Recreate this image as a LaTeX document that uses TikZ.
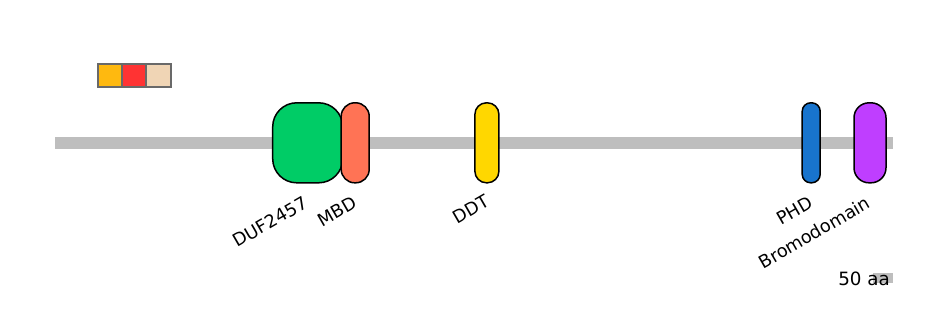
\documentclass[tikz,border=0pt]{standalone}
\usepackage{fontspec}
\setmainfont{DejaVu Sans}
\definecolor{bbgray}{RGB}{190,190,190}
\definecolor{lgA}{RGB}{255,185,15}
\definecolor{lgB}{RGB}{255,51,51}
\definecolor{lgC}{RGB}{240,213,181}
\definecolor{lgedge}{RGB}{105,105,105}
\definecolor{cDUF}{RGB}{0,204,102}
\definecolor{cMBD}{RGB}{255,115,85}
\definecolor{cDDT}{RGB}{255,215,0}
\definecolor{cPHD}{RGB}{24,116,205}
\definecolor{cBRD}{RGB}{191,62,255}
\begin{document}
\begin{tikzpicture}[x=1pt,y=-1pt,
  dombox/.style={draw=black, line width=1.5pt, minimum height=80pt, inner sep=0pt},
  lgbox/.style={draw=lgedge, line width=2pt, minimum width=24.5pt, minimum height=23pt, inner sep=0pt},
  dlabel/.style={rotate=30, anchor=north east, inner sep=0pt, font=\fontsize{17.8}{20}\selectfont}]
\useasboundingbox (0,0) rectangle (944,330);
% backbone
\coordinate (bbL) at (55,142.8);
\coordinate (bbR) at (893,142.8);
\draw[bbgray, line width=11.5pt] (bbL) -- (bbR);
% legend
\node[lgbox, fill=lgA] (lg1) at (109.8,75) {};
\node[lgbox, fill=lgB] (lg2) at (133.8,75) {};
\node[lgbox, fill=lgC] (lg3) at (158.5,75) {};
% domains
\node[dombox, fill=cDUF, minimum width=70pt, rounded corners=24pt] (duf) at (307.7,142.8) {};
\node[dombox, fill=cMBD, minimum width=28pt, rounded corners=13.5pt] (mbd) at (355.2,142.8) {};
\node[dombox, fill=cDDT, minimum width=24pt, rounded corners=11.5pt] (ddt) at (486.9,142.8) {};
\node[dombox, fill=cPHD, minimum width=18pt, rounded corners=8.5pt] (phd) at (811.2,142.8) {};
\node[dombox, fill=cBRD, minimum width=32pt, rounded corners=15pt] (brd) at (870,142.8) {};
% labels
\node[dlabel] (lduf) at (302.5,195) {DUF2457};
\node[dlabel] (lmbd) at (351.5,195.5) {MBD};
\node[dlabel] (lddt) at (484.5,194) {DDT};
\node[dlabel] (lphd) at (808,195) {PHD};
\node[dlabel] (lbrd) at (865,195) {Bromodomain};
% scale
\fill[bbgray] (873,273) rectangle (893,283);
\node[anchor=base east, inner sep=0pt, font=\fontsize{18.3}{20}\selectfont] (scale) at (890,285) {50 aa};
\end{tikzpicture}
\end{document}
